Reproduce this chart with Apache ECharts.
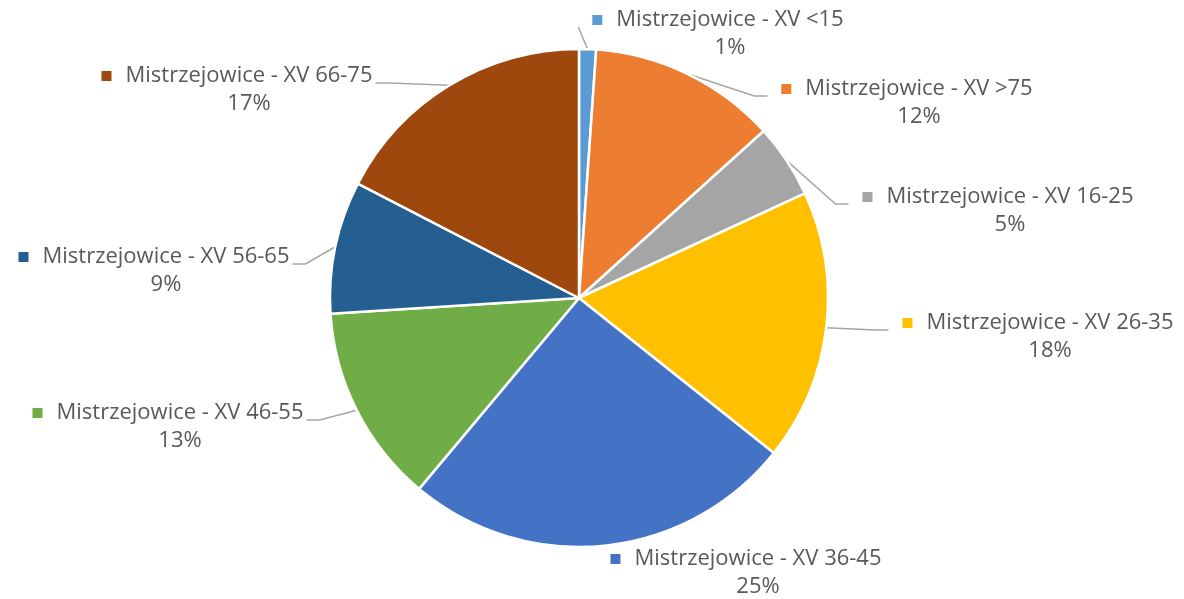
<!DOCTYPE html>
<html>
<head>
<meta charset="utf-8">
<script src="https://cdn.jsdelivr.net/npm/echarts@6/dist/echarts.min.js"></script>
<style>
  html, body { margin: 0; padding: 0; background: #fff; }
  #chart { width: 1184px; height: 599px; }
</style>
</head>
<body>
<div id="chart"></div>
<script>
// dane wykresu
const categories = [
  'Mistrzejowice - XV <15',
  'Mistrzejowice - XV >75',
  'Mistrzejowice - XV 16-25',
  'Mistrzejowice - XV 26-35',
  'Mistrzejowice - XV 36-45',
  'Mistrzejowice - XV 46-55',
  'Mistrzejowice - XV 56-65',
  'Mistrzejowice - XV 66-75'
];
const values = [1.1, 12.2, 4.8, 17.6, 25.4, 12.9, 8.6, 17.4];
const colors = ['#5B9BD5', '#ED7D31', '#A5A5A5', '#FFC000', '#4472C4', '#70AD47', '#255E91', '#9E480E'];

// położenie etykiet (środek bloku tekstu)
const labelCenters = [[718, 34], [907, 103], [998, 211], [1038, 337], [746, 573], [168, 427], [154, 271], [237, 90]];
const noLeader = [4];

const CX = 579, CY = 298, R = 249;
const total = values.reduce((a, b) => a + b, 0);

function midAngle(i) {
  let before = 0;
  for (let k = 0; k < i; k++) before += values[k];
  return (before + values[i] / 2) / total * Math.PI * 2;
}

const rich = {
  name: { fontSize: 22, color: '#595959', lineHeight: 28, padding: [0, 0, 0, 14], fontFamily: 'Open Sans' },
  pct: { fontSize: 22, color: '#595959', lineHeight: 28, padding: [0, 0, 0, 24], fontFamily: 'Open Sans' }
};
colors.forEach((c, i) => {
  rich['sq' + i] = { width: 10, height: 10, backgroundColor: c, lineHeight: 28 };
});

const chart = echarts.init(document.getElementById('chart'));
chart.setOption({
  animation: false,
  backgroundColor: '#fff',
  series: [{
    type: 'pie',
    center: [CX, CY],
    radius: R,
    startAngle: 90,
    clockwise: true,
    percentPrecision: 0,
    itemStyle: { borderColor: '#fff', borderWidth: 2.5 },
    label: {
      show: true,
      position: 'outside',
      align: 'center',
      formatter: (p) => '{sq' + p.dataIndex + '| }{name|' + p.name + '}\n{pct|' + p.percent + '%}',
      rich: rich
    },
    labelLine: { show: true, lineStyle: { color: '#A6A6A6', width: 1.5 } },
    labelLayout: function (params) {
      const i = params.dataIndex;
      const [lx, ly] = labelCenters[i];
      const w = params.labelRect.width;
      const a = midAngle(i);
      const ex = CX + R * Math.sin(a), ey = CY - R * Math.cos(a);
      const right = lx > CX;
      const endX = right ? lx - w / 2 - 14 : lx + w / 2 + 3;
      const endY = ly - 14 + 7;
      let pts;
      if ((right && ex < endX - 13) || (!right && ex > endX + 13)) {
        const elbowX = right ? endX - 13 : endX + 13;
        pts = [[ex, ey], [elbowX, endY], [endX, endY]];
      } else {
        pts = [[ex, ey], [endX, endY]];
      }
      const out = { x: lx, y: ly, align: 'center', verticalAlign: 'middle' };
      out.labelLinePoints = noLeader.includes(i) ? [[ex, ey], [ex, ey]] : pts;
      return out;
    },
    data: categories.map((name, i) => ({
      name: name,
      value: values[i],
      itemStyle: { color: colors[i] }
    }))
  }]
});
</script>
</body>
</html>
